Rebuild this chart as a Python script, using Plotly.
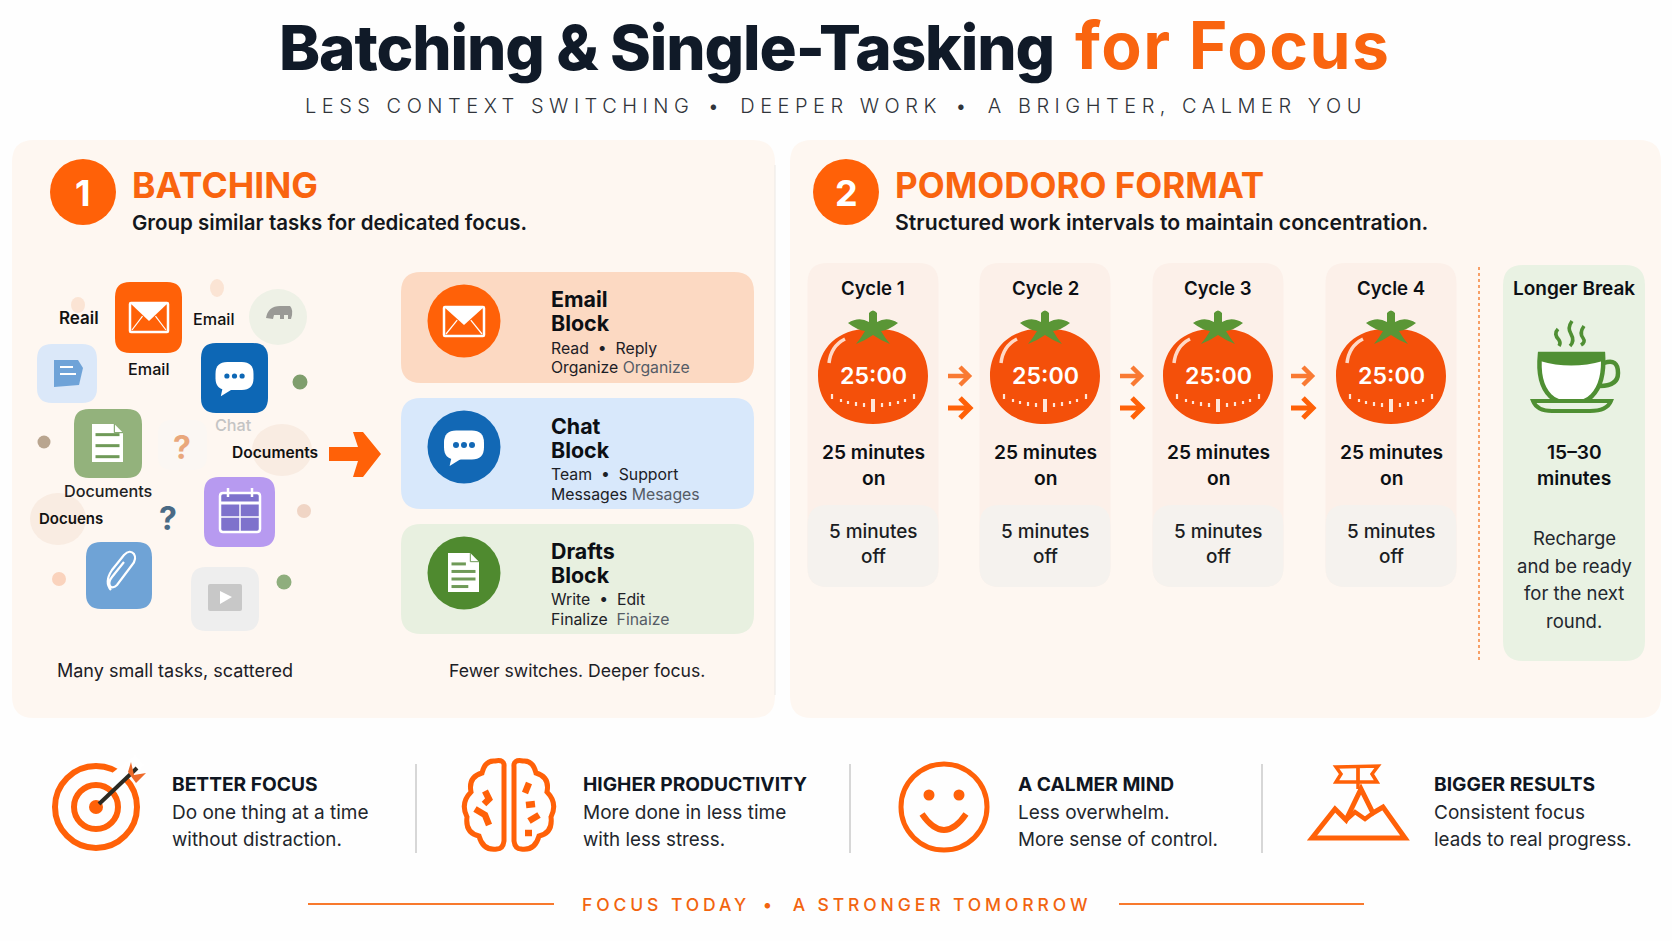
import plotly.graph_objects as go

# ---------- text content ----------
title_dark = "Batching & Single-Tasking"
title_accent = "for Focus"
subtitle_parts = ["LESS CONTEXT SWITCHING", "DEEPER WORK", "A BRIGHTER, CALMER YOU"]
footer_parts = ["FOCUS TODAY", "A STRONGER TOMORROW"]
block_titles = [["Email", "Block"], ["Chat", "Block"], ["Drafts", "Block"]]
block_line1 = ["Read  •  Reply", "Team  •  Support", "Write  •  Edit"]
block_line2 = [["Organize", "Organize"], ["Messages", "Mesages"], ["Finalize", " Finaize"]]
cycle_names = ["Cycle 1", "Cycle 2", "Cycle 3", "Cycle 4"]
timer_text = "25:00"
on_text = ["25 minutes", "on"]
off_text = ["5 minutes", "off"]
break_text = ["15–30", "minutes"]
break_note = ["Recharge", "and be ready", "for the next", "round."]
benefit_heads = ["BETTER FOCUS", "HIGHER PRODUCTIVITY", "A CALMER MIND", "BIGGER RESULTS"]
benefit_l1 = ["Do one thing at a time", "More done in less time", "Less overwhelm.", "Consistent focus"]
benefit_l2 = ["without distraction.", "with less stress.", "More sense of control.", "leads to real progress."]

OR = "#FF6108"
DARK = "#101a28"
INK = "#1c2026"
GREEN = "#4F8F33"
FONT = "Inter"

shapes, notes = [], []


def path(d, fill=None, line=None, w=0, op=1.0, cap=None):
    s = dict(type="path", path=d, xref="x", yref="y", opacity=op,
             fillcolor=fill if fill else "rgba(0,0,0,0)",
             line=dict(color=line if line else "rgba(0,0,0,0)", width=w))
    shapes.append(s)


def rr(x0, y0, x1, y1, r, fill=None, line=None, w=0, op=1.0):
    d = (f"M{x0+r},{y0} L{x1-r},{y0} Q{x1},{y0} {x1},{y0+r} L{x1},{y1-r} Q{x1},{y1} {x1-r},{y1} "
         f"L{x0+r},{y1} Q{x0},{y1} {x0},{y1-r} L{x0},{y0+r} Q{x0},{y0} {x0+r},{y0} Z")
    path(d, fill, line, w, op)


def circ(cx, cy, rx, ry=None, fill=None, line=None, w=0, op=1.0):
    ry = rx if ry is None else ry
    shapes.append(dict(type="circle", xref="x", yref="y", x0=cx-rx, x1=cx+rx, y0=cy-ry, y1=cy+ry,
                       opacity=op, fillcolor=fill if fill else "rgba(0,0,0,0)",
                       line=dict(color=line if line else "rgba(0,0,0,0)", width=w)))


def seg(pts, line, w, closed=False, fill=None, op=1.0):
    d = "M" + " L".join(f"{x},{y}" for x, y in pts) + (" Z" if closed else "")
    path(d, fill, line, w, op)


def t(x, y, text, size, color=INK, weight=400, anchor="center", spacing=None):
    if spacing is not None:
        text = f'<span style="letter-spacing:{spacing}px">{text}</span>'
    notes.append(dict(x=x, y=y, xref="x", yref="y", text=text, showarrow=False, xanchor=anchor,
                      yanchor="middle", align=anchor if anchor != "middle" else "center",
                      font=dict(family=FONT, size=size, color=color, weight=weight),
                      borderpad=0, borderwidth=0))


def tracked(parts, word_ls, dot_ls):
    """Join phrases with a bullet, tracking the phrases and the bullet gaps separately."""
    dot = f'<span style="letter-spacing:{dot_ls}px"> • </span>'
    return dot.join(f'<span style="letter-spacing:{word_ls}px">{p}</span>' for p in parts)


# ---------- icon helpers ----------
def envelope(x0, y0, x1, y1, bg):
    cx = (x0+x1)/2
    h = y1-y0
    rr(x0, y0, x1, y1, 1, fill=bg, line="white", w=2.5)
    seg([(x0, y0), (x1, y0), (cx, y0+h*0.62)], None, 0, closed=True, fill="white")
    seg([(x0+2, y1-2), (x0+(x1-x0)*0.33, y0+h*0.45)], "white", 1.2)
    seg([(x1-2, y1-2), (x1-(x1-x0)*0.33, y0+h*0.45)], "white", 1.2)


def chat(cx, cy, w, h, dot, r=3):
    rr(cx-w/2, cy-h/2, cx+w/2, cy+h/2, h*0.42, fill="white")
    seg([(cx-w*0.3, cy+h*0.35), (cx-w*0.36, cy+h*0.72), (cx-w*0.05, cy+h*0.46)], None, 0, closed=True, fill="white")
    for k in (-1, 0, 1):
        circ(cx+k*w*0.2, cy, r, fill=dot)


def doc(x0, y0, x1, y1, bg, lines):
    fold = (x1-x0)*0.28
    seg([(x0, y0), (x1-fold, y0), (x1, y0+fold), (x1, y1), (x0, y1)], None, 0, closed=True, fill="white")
    seg([(x1-fold, y0), (x1-fold, y0+fold), (x1, y0+fold)], bg, 1)
    n = len(lines)
    for i, frac in enumerate(lines):
        yy = y0+(y1-y0)*(0.28+0.58*i/max(n-1, 1))
        seg([(x0+3.5, yy), (x0+3.5+(x1-x0-7)*frac, yy)], bg, 3)


def tomato(cx, cy):
    rx, ry = 55, 48
    k = 0.60
    d = (f"M{cx},{cy-ry+1} C{cx+rx*k},{cy-ry-1} {cx+rx},{cy-ry*k} {cx+rx},{cy} "
         f"C{cx+rx},{cy+ry*k} {cx+rx*k},{cy+ry} {cx},{cy+ry} "
         f"C{cx-rx*k},{cy+ry} {cx-rx},{cy+ry*k} {cx-rx},{cy} "
         f"C{cx-rx},{cy-ry*k} {cx-rx*k},{cy-ry-1} {cx},{cy-ry+1} Z")
    path(d, fill="#F4500A")
    # highlight
    path(f"M{cx-44},{cy-13} Q{cx-42},{cy-30} {cx-28},{cy-37}", line="#FFD9C6", w=3.5)
    # leaves and stem
    lf = lambda a, b: f"{cx+a},{cy+b}"
    d = (f"M{lf(-4,-63)} Q{lf(0,-68)} {lf(4,-63)} L{lf(4,-54)} Q{lf(14,-60)} {lf(25,-53)} "
         f"Q{lf(16,-46)} {lf(8,-45)} Q{lf(12,-38)} {lf(17,-32)} Q{lf(7,-36)} {lf(0,-41)} "
         f"Q{lf(-7,-36)} {lf(-17,-32)} Q{lf(-12,-38)} {lf(-8,-45)} Q{lf(-16,-46)} {lf(-25,-53)} "
         f"Q{lf(-14,-60)} {lf(-4,-54)} Z")
    path(d, fill="#5A9636")
    # dial ticks
    ticks = [(-41, 18, 23), (-32, 23, 26), (-25, 25, 28), (-17, 26, 30), (-9, 27, 31), (0, 23, 36),
             (9, 27, 31), (17, 26, 30), (25, 25, 28), (32, 23, 26), (41, 18, 23)]
    for dx, a, b in ticks:
        seg([(cx+dx, cy+a), (cx+dx, cy+b)], "#FFE6D8", 4 if dx == 0 else 2.2)


def block_arrow(x0, x1, cy, h, c=OR, w=5):
    seg([(x0, cy), (x1-1, cy)], c, w)
    seg([(x1-h, cy-h), (x1, cy), (x1-h, cy+h)], c, w)


# ---------- page furniture ----------
rr(12, 140, 775, 718, 22, fill="#FEF7F1")
rr(790, 140, 1661, 718, 22, fill="#FEF7F1")
seg([(775, 165), (775, 695)], "#ECE8E4", 1)

t(1054, 47, title_dark, 62, DARK, 800, "right", spacing=-1.1)
t(1075, 45, title_accent, 66, "#F9640F", 700, "left", spacing=1.5)
t(836, 106, tracked(subtitle_parts, 5.5, 7.8), 20, "#30343a", 300, "center")

# headings
for cx, num in ((83, "1"), (846, "2")):
    circ(cx, 192, 33, fill=OR)
    t(cx, 193, num, 36, "white", 700)
t(132, 185, "BATCHING", 35.5, "#F9640F", 700, "left")
t(895, 185, "POMODORO FORMAT", 35, "#F9640F", 700, "left")
t(132, 222, "Group similar tasks for dedicated focus.", 20.5, "#14171c", 600, "left")
t(895, 222, "Structured work intervals to maintain concentration.", 21.2, "#14171c", 600, "left")

# ---------- scattered icons ----------
circ(217, 288, 7, 9, fill="#FBE4D4")
circ(78, 305, 7, 8, fill="#FBE4D4")
circ(278, 317, 29, 28, fill="#EEF1E6")
path("M266,318 Q268,306 280,306 L290,306 Q294,310 291,319 L288,319 L288,315 L284,315 L284,319 L280,319 L280,315 L274,315 L273,319 Z", fill="#9a9a96")
circ(58, 519, 28, 26, fill="#F9ECE2")
circ(282, 450, 30, 26, fill="#F9ECE2")

rr(115, 282, 182, 353, 15, fill=OR)
envelope(130, 303, 168, 332, OR)
rr(37, 344, 97, 403, 15, fill="#DBE8F9")
seg([(54, 360), (78, 360), (83, 368), (79, 385), (54, 387)], None, 0, closed=True, fill="#6FA3D8")
seg([(60, 367), (73, 367)], "white", 2)
seg([(60, 374), (76, 374)], "white", 2)
rr(201, 343, 268, 413, 15, fill="#0D67B5")
chat(234.5, 376, 38, 28, "#0D67B5", 2.6)
circ(300, 382, 7.5, fill="#7F9E6D")
circ(44, 442, 6.5, fill="#B9A58F")
rr(74, 409, 142, 478, 15, fill="#93B27C")
doc(92, 424, 123, 462, "#6F9A58", [1, 1, 1])
rr(158, 420, 207, 470, 14, fill="#FBF7F3")
t(182, 447, "?", 32, "#E9A87C", 700)
rr(204, 477, 275, 547, 15, fill="#B79AF0")
rr(220, 493, 260, 532, 3, fill="#7E72CC", line="white", w=2.5)
seg([(220, 503), (260, 503)], "white", 3)
seg([(228, 488), (228, 497)], "white", 2.5)
seg([(252, 488), (252, 497)], "white", 2.5)
seg([(220, 517), (260, 517)], "white", 1.5)
seg([(240, 503), (240, 532)], "white", 1.5)
circ(304, 511, 7, fill="#F0D5C5")
rr(86, 542, 152, 609, 15, fill="#6FA3D6")
path("M111,590 Q104,582 112,570 L124,555 Q130,549 134,554 Q137,559 132,565 L117,585 Q113,589 110,586 Q108,582 112,577 L124,562",
     line="white", w=2.2)
circ(59, 579, 7, fill="#FAD3BD")
rr(191, 567, 259, 631, 15, fill="#EEEEEE")
rr(208, 584, 242, 611, 2, fill="#C8C8C8")
seg([(220, 591), (232, 597), (220, 604)], None, 0, closed=True, fill="white")
circ(284, 582, 7.5, fill="#8FAE7D")

t(79, 318, "Reail", 17, "#111", 600)
t(214, 319, "Email", 16.2, "#111", 500)
t(149, 369, "Email", 16.2, "#111", 500)
t(233, 425, "Chat", 16.2, "#C4C4C4", 500)
t(275, 452, "Documents", 15.6, "#111", 600)
t(108, 491, "Documents", 16.2, "#222", 500)
t(71, 518, "Docuens", 15, "#111", 600)
t(168, 518, "?", 32, "#4A6A85", 700)

# big arrow
seg([(329, 447), (358, 447), (353, 432), (363, 432), (381, 454), (363, 477), (353, 477), (358, 461), (329, 461)],
    None, 0, closed=True, fill=OR)

t(175, 670, "Many small tasks, scattered", 18, INK, 400)
t(577, 670, "Fewer switches. Deeper focus.", 17.6, INK, 400)

# ---------- blocks ----------
block_tops = [(272, 383), (398, 509), (524, 634)]
block_cy = [321, 447, 573]
block_fill = ["#FCD9C2", "#D8E8FB", "#E8F0E0"]
block_disc = [OR, "#1268B5", "#4F8A2F"]
block_ys = [(299, 323, 348, 367), (426, 450, 474, 494), (551, 575, 599, 619)]
for i in range(3):
    y0, y1 = block_tops[i]
    rr(401, y0, 754, y1, 20, fill=block_fill[i])
    circ(464, block_cy[i], 36.5, fill=block_disc[i])
    ya, yb, yc, yd = block_ys[i]
    t(551, ya, block_titles[i][0], 21.4, "#0c0f14", 700, "left")
    t(551, yb, block_titles[i][1], 21.4, "#0c0f14", 700, "left")
    t(551, yc, block_line1[i], 15.8, INK, 400, "left")
    t(551, yd, f'{block_line2[i][0]} <span style="color:#555c66">{block_line2[i][1]}</span>', 15.8, INK, 400, "left")
envelope(444, 307, 484, 336, OR)
chat(464, 445, 40, 29, "#1268B5", 3)
doc(448, 553, 479, 592, "#6F9A58", [0.6, 1, 1, 0.7])

# ---------- cycles ----------
cycle_cx = [873, 1045, 1218, 1391]
for i, cx in enumerate(cycle_cx):
    rr(cx-65.5, 263, cx+65.5, 587, 20, fill="#FCF0E9")
    rr(cx-65.5, 505, cx+65.5, 587, 20, fill="#F5F2EE")
    t(cx, 288, cycle_names[i], 18.6, "#0c0f14", 600)
    tomato(cx, 376)
    t(cx, 376, timer_text, 23.2, "white", 600)
    t(cx, 452, on_text[0], 19.2, "#0c0f14", 600)
    t(cx, 478, on_text[1], 19.2, "#0c0f14", 600)
    t(cx, 531, off_text[0], 18.9, "#1a1d22", 500)
    t(cx, 556, off_text[1], 18.9, "#1a1d22", 500)
for ax in (948, 1120, 1291):
    block_arrow(ax, ax+21, 376, 9, "#F97A33", 4.5)
    block_arrow(ax, ax+22, 408, 10, OR, 5)

shapes.append(dict(type="line", xref="x", yref="y", x0=1479, x1=1479, y0=267, y1=660,
                   line=dict(color="#F58A45", width=1.6, dash="3px,3px")))

# ---------- longer break ----------
rr(1503, 265, 1645, 661, 20, fill="#E9F2E3")
t(1574, 288, "Longer Break", 19, "#0c0f14", 600)
path("M1540,354 L1603,354 Q1605,383 1592,396 Q1586,403 1572,403 Q1556,403 1550,396 Q1537,383 1540,354 Z",
     fill="white", line=GREEN, w=4.5)
path("M1540,354 L1603,354 L1603,361 Q1571,370 1540,361 Z", fill=GREEN)
path("M1604,363 Q1618,358 1618,373 Q1618,386 1600,386", line=GREEN, w=4.5)
path("M1533,401 L1611,401 Q1607,411 1590,411 L1552,411 Q1537,411 1533,401 Z", fill="#E9F2E3", line=GREEN, w=4)
path("M1558,329 Q1553,334 1559,340 Q1561,343 1559,346", line=GREEN, w=3.6)
path("M1572,321 Q1567,328 1571,334 Q1575,341 1570,346", line=GREEN, w=3.6)
path("M1584,326 Q1579,333 1583,338 Q1586,342 1581,345", line=GREEN, w=3.6)
t(1574, 452, break_text[0], 19.2, "#0c0f14", 600)
t(1574, 478, break_text[1], 19.2, "#0c0f14", 600)
for yy, s in zip((538, 566, 593, 621), break_note):
    t(1574, yy, s, 18.5, "#23272e", 400)

# ---------- benefits ----------
text_x = [172, 582.5, 1017.5, 1433.5]
for i, x in enumerate(text_x):
    t(x, 784, benefit_heads[i], 19.2, "#0f1622", 650, "left")
    t(x, 812, benefit_l1[i], 19, "#22262c", 400, "left")
    t(x, 839, benefit_l2[i], 18.8, "#22262c", 400, "left")
for x in (416, 850, 1262):
    seg([(x, 764), (x, 853)], "#BDBDBD", 1.2)

# target
circ(96, 807, 41, line=OR, w=6)
circ(96, 807, 22, line=OR, w=6)
circ(96, 807, 7, fill=OR)
seg([(112, 782), (140, 760)], "white", 14)
seg([(99, 804), (137, 768)], "#2c2a22", 4)
seg([(131, 762), (134, 775), (146, 773), (136, 783), (128, 772)], None, 0, closed=True, fill="#EE6A2A")

# brain
bx, by = 509, 807
def lobe(sign):
    p = lambda a, b: f"{bx+sign*a},{by+b}"
    return (f"M{p(5,-40)} Q{p(4,-48)} {p(14,-46)} Q{p(24,-47)} {p(27,-34)} Q{p(41,-30)} {p(38,-15)} "
            f"Q{p(49,-4)} {p(42,10)} Q{p(44,26)} {p(30,29)} Q{p(26,44)} {p(12,42)} Q{p(6,42)} {p(5,34)} Z")
path(lobe(-1), line=OR, w=5)
path(lobe(1), line=OR, w=5)
for pts in ([(-24, -16), (-20, -8), (-25, -3)], [(-34, 2), (-24, 8), (-20, 18)],
            [(20, -24), (16, -14)], [(17, -2), (26, -3)], [(30, 8), (20, 14)], [(16, 26), (23, 26)]):
    seg([(bx+a, by+b) for a, b in pts], OR, 6.5)

# smile
circ(944, 807, 43, line=OR, w=5)
circ(929, 795, 5.5, fill=OR)
circ(959, 795, 5.5, fill=OR)
path("M922,814 Q944,846 966,814", line=OR, w=6)

# mountain
seg([(1312, 838), (1335, 809), (1346, 820), (1361, 789), (1373, 813), (1383, 807), (1405, 838)], OR, 5, closed=True)
seg([(1346, 820), (1355, 812), (1365, 819), (1373, 813)], OR, 4.5)
seg([(1358, 789), (1358, 768)], OR, 3.5)
seg([(1336, 767), (1378, 766), (1372, 774), (1377, 782), (1336, 782), (1341, 774)], OR, 3.5, closed=True)
seg([(1358, 767), (1358, 782)], OR, 3)

# footer
t(836, 904, tracked(footer_parts, 3.9, 8), 17.5, "#F2640F", 500)
seg([(308, 904), (554, 904)], "#F8792D", 2)
seg([(1119, 904), (1364, 904)], "#F8792D", 2)

fig = go.Figure()
fig.add_trace(go.Scatter(x=[], y=[], showlegend=False))
fig.update_layout(
    width=1672, height=941, margin=dict(l=0, r=0, t=0, b=0, pad=0),
    paper_bgcolor="#FEFEFE", plot_bgcolor="#FEFEFE", showlegend=False,
    xaxis=dict(range=[0, 1672], visible=False, fixedrange=True),
    yaxis=dict(range=[941, 0], visible=False, fixedrange=True),
    shapes=shapes, annotations=notes, font=dict(family=FONT),
)
fig.write_html("out.html", config=dict(displayModeBar=False),
               post_script="document.body.style.margin='0';document.body.style.overflow='hidden';")
